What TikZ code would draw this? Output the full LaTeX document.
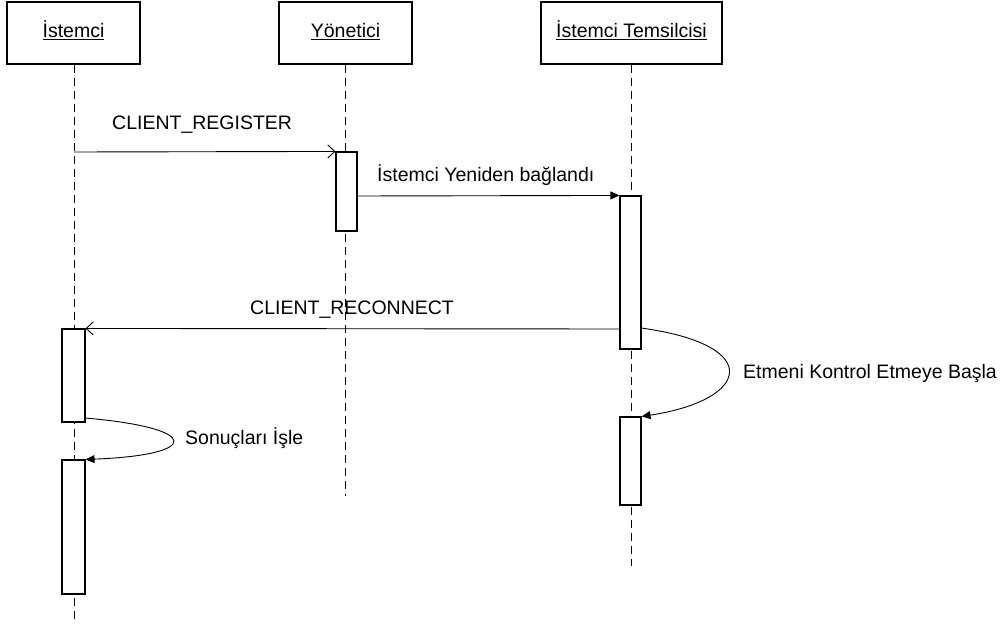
\documentclass[tikz,border=0pt]{standalone}
\usepackage{fontspec}
\setmainfont{Liberation Sans}
\usetikzlibrary{arrows.meta}
\begin{document}
\begin{tikzpicture}[x=1pt,y=-1pt,
  obj/.style={draw,line width=1.2pt,minimum height=62pt,inner sep=0pt,text height=15pt,text depth=5pt,font=\fontsize{19.5}{22}\selectfont},
  life/.style={line width=0.9pt,dash pattern=on 8pt off 5pt},
  act/.style={draw,line width=1.1pt,fill=white},
  msg/.style={line width=0.9pt},
  lbl/.style={font=\fontsize{19.5}{22}\selectfont,inner sep=0pt,anchor=west},
  open/.style={-{Straight Barb[length=7pt,width=13pt]}},
  filled/.style={-{Triangle[length=9pt,width=8pt]}}]
\useasboundingbox (0,0) rectangle (1008,628);
% objects
\node[obj,minimum width=133pt] (o1) at (73.5,33) {\underline{İstemci}};
\node[obj,minimum width=133pt] (o2) at (345.5,33) {\underline{Yönetici}};
\node[obj,minimum width=181pt] (o3) at (631.5,33) {\underline{İstemci Temsilcisi}};
% lifelines
\coordinate (e1) at (74,622);
\coordinate (e2) at (345,496);
\coordinate (e3) at (631,566);
\draw[life] (o1.south -| e1) -- (e1);
\draw[life] (o2.south -| e2) -- (e2);
\draw[life] (o3.south -| e3) -- (e3);
% activations
\node[act,minimum width=21pt,minimum height=79pt,inner sep=0pt] (a2) at (346.5,191.5) {};
\node[act,minimum width=21pt,minimum height=153pt,inner sep=0pt] (a3) at (630.5,272.5) {};
\node[act,minimum width=21pt,minimum height=88pt,inner sep=0pt] (a3b) at (630.5,461) {};
\node[act,minimum width=23pt,minimum height=93pt,inner sep=0pt] (a1) at (73.5,375.5) {};
\node[act,minimum width=23pt,minimum height=134pt,inner sep=0pt] (a1b) at (73.5,527) {};
% messages
\draw[msg,open] (74,152) -- (a2.north west);
\node[lbl] (l1) at (112,125) {CLIENT\_REGISTER};
\draw[msg,filled] (a2.east |- 0,196) -- (a3.north west);
\node[lbl] (l2) at (377,175) {İstemci Yeniden bağlandı};
\draw[msg,open] (a3.west |- 0,329) -- (a1.north east);
\node[lbl] (l3) at (250,310) {CLIENT\_RECONNECT};
% self messages
\coordinate (s1) at (641,328);
\draw[msg,filled] (s1) .. controls (765,345) and (750,400) .. (a3b.north east);
\node[lbl] (l4) at (743,373) {Etmeni Kontrol Etmeye Başla};
\coordinate (s2) at (85,418);
\draw[msg,filled] (s2) .. controls (202,428) and (202,455) .. (a1b.north east);
\node[lbl] (l5) at (185,438) {Sonuçları İşle};
\end{tikzpicture}
\end{document}
